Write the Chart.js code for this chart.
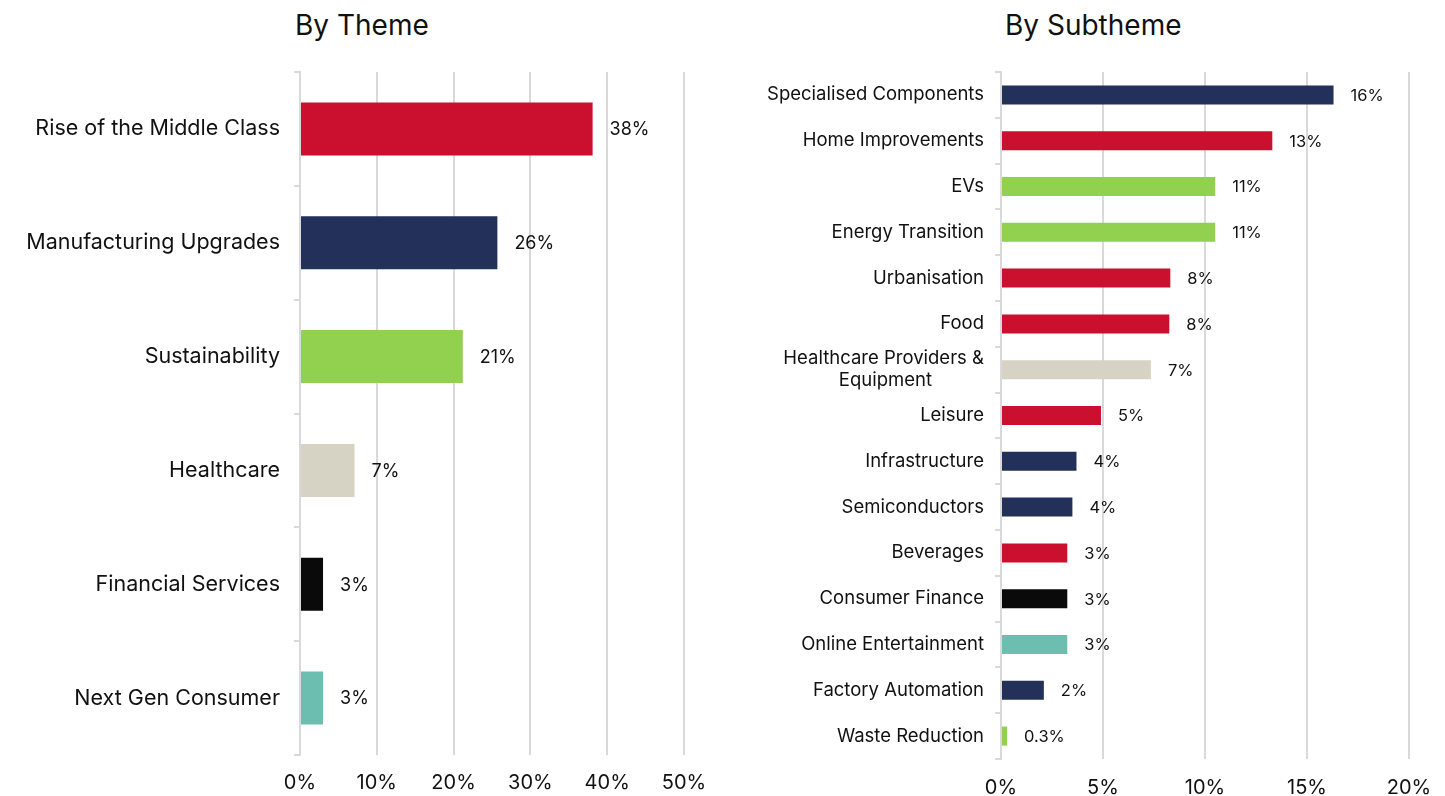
<!DOCTYPE html>
<html>
<head>
<meta charset="utf-8">
<script src="https://cdn.jsdelivr.net/npm/chart.js@4"></script>
<style>
  body { margin: 0; background: #fff; width: 1445px; height: 796px; overflow: hidden; font-family: Inter, sans-serif; }
  .box { position: absolute; top: 0; height: 796px; }
  .title { position: absolute; top: 8px; font-size: 28px; color: #111; font-family: Inter, sans-serif; }
</style>
</head>
<body>
<div class="title" style="left:295px">By Theme</div>
<div class="title" style="left:1005px">By Subtheme</div>
<div class="box" style="left:0; width:720px"><canvas id="theme"></canvas></div>
<div class="box" style="left:720px; width:725px"><canvas id="subtheme"></canvas></div>
<script>
const themes = ['Rise of the Middle Class', 'Manufacturing Upgrades', 'Sustainability', 'Healthcare', 'Financial Services', 'Next Gen Consumer'];
const themeValues = [38.1, 25.7, 21.2, 7.1, 3.0, 3.0];
const themeLabels = ['38%', '26%', '21%', '7%', '3%', '3%'];

const subthemes = ['Specialised Components', 'Home Improvements', 'EVs', 'Energy Transition', 'Urbanisation', 'Food',
    ['Healthcare Providers &', 'Equipment          '], 'Leisure', 'Infrastructure', 'Semiconductors', 'Beverages',
    'Consumer Finance', 'Online Entertainment', 'Factory Automation', 'Waste Reduction'];
const subValues = [16.3, 13.3, 10.5, 10.5, 8.3, 8.25, 7.35, 4.9, 3.7, 3.5, 3.25, 3.25, 3.25, 2.1, 0.3];
const subLabels = ['16%', '13%', '11%', '11%', '8%', '8%', '7%', '5%', '4%', '4%', '3%', '3%', '3%', '2%', '0.3%'];

const RED = '#CB0F2F', NAVY = '#22305A', GREEN = '#92D050', BEIGE = '#D6D3C4', BLACK = '#0A0A0A', TEAL = '#6CBEB0';
const themeColors = [RED, NAVY, GREEN, BEIGE, BLACK, TEAL];
const subColors = [NAVY, RED, GREEN, GREEN, RED, RED, BEIGE, RED, NAVY, NAVY, RED, BLACK, TEAL, NAVY, GREEN];

Chart.defaults.font.family = 'Inter, sans-serif';
Chart.defaults.color = '#111';
Chart.defaults.animation = false;

// draws the value text to the right of each bar
const barText = {
    id: 'barText',
    afterDatasetsDraw(chart, args, opts) {
        const c = chart.ctx;
        c.save();
        c.font = opts.size + 'px Inter, sans-serif';
        c.fillStyle = '#111';
        c.textBaseline = 'middle';
        c.textAlign = 'left';
        chart.getDatasetMeta(0).data.forEach((bar, i) => {
            c.fillText(opts.labels[i], bar.x + 17, bar.y + 1);
        });
        c.restore();
    }
};

function makeChart(id, cats, values, colors, labels, o) {
    return new Chart(document.getElementById(id), {
        type: 'bar',
        data: {
            labels: cats,
            datasets: [{
                data: values,
                backgroundColor: colors,
                barPercentage: o.bar,
                categoryPercentage: 1
            }]
        },
        options: {
            indexAxis: 'y',
            responsive: true,
            maintainAspectRatio: false,
            layout: { padding: { top: 72, right: o.right, left: 0, bottom: 0 } },
            plugins: {
                legend: { display: false },
                tooltip: { enabled: false },
                barText: { labels: labels, size: o.valSize }
            },
            scales: {
                x: {
                    min: 0, max: o.max,
                    ticks: { stepSize: o.step, callback: v => v + '%', font: { size: 20 }, padding: o.xpad, color: '#111' },
                    grid: { color: '#D9D9D9', lineWidth: 2, drawTicks: false },
                    border: { display: false },
                    afterFit: s => { s.height = o.xh; s.paddingLeft = 0; s.paddingRight = 0; }
                },
                y: {
                    ticks: { font: { size: o.catSize }, padding: o.pad, color: '#111', autoSkip: false },
                    grid: { drawOnChartArea: false, color: '#D9D9D9', lineWidth: 2, tickLength: 6, offset: true },
                    border: { color: '#D9D9D9', width: 2 },
                    afterFit: s => { s.width = o.yw; }
                }
            }
        },
        plugins: [barText]
    });
}

makeChart('theme', themes, themeValues, themeColors, themeLabels,
    { bar: 0.465, max: 50, step: 10, right: 36, xh: 41, yw: 300, catSize: 21.5, valSize: 18, pad: 14, xpad: 16 });
makeChart('subtheme', subthemes, subValues, subColors, subLabels,
    { bar: 0.415, max: 20, step: 5, right: 36, xh: 37, yw: 281, catSize: 18.5, valSize: 16.5, pad: 11, xpad: 17 });
</script>
</body>
</html>
